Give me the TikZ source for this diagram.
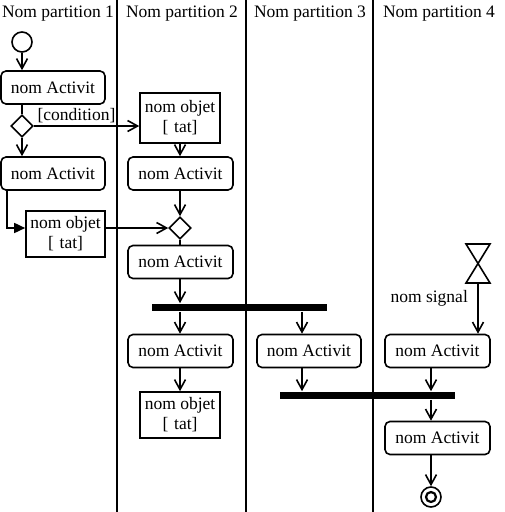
\documentclass[tikz,border=0pt]{standalone}
\usepackage{fontspec}
\setmainfont{Liberation Serif}
\usetikzlibrary{arrows.meta,shapes.geometric}
\begin{document}
\begin{tikzpicture}[x=1pt,y=-1pt,line width=1.6pt,
  every node/.style={font=\fontsize{17.5}{19}\selectfont},
  act/.style={draw,rounded corners=5pt,minimum width=104pt,minimum height=33pt,inner sep=0pt,text depth=0pt},
  obj/.style={draw,minimum width=80pt,minimum height=48pt,inner sep=0pt,align=center,font=\fontsize{17.5}{20}\selectfont},
  dec/.style={draw,diamond,minimum width=22pt,minimum height=22pt,inner sep=0pt},
  bar/.style={fill=black,draw=none,inner sep=0pt,minimum width=175pt,minimum height=7pt},
  flow/.style={-{Straight Barb[length=10pt,width=11pt,line width=1.6pt]}},
  flowf/.style={-{Triangle[length=11pt,width=10pt]}},
  lane/.style={line width=1.8pt}]
\useasboundingbox (0,0) rectangle (504,512);
% lanes
\draw[lane] (117,0) -- (117,512);
\draw[lane] (246,0) -- (246,512);
\draw[lane] (373,0) -- (373,512);
\node (h1) at (58,14) {Nom partition 1};
\node (h2) at (182,14) {Nom partition 2};
\node (h3) at (310,14) {Nom partition 3};
\node (h4) at (439,14) {Nom partition 4};
% nodes
\node[draw,circle,minimum size=20pt,inner sep=0pt] (init) at (22,42) {};
\node[act] (a1) at (53,87.5) {nom Activit};
\node[dec] (d1) at (22,126) {};
\node[act] (a2) at (53,173.5) {nom Activit};
\node[obj,minimum height=50pt] (o1) at (180,118) {nom objet\\{[}\,\,tat{]}};
\node[act,minimum width=105pt] (a3) at (180.5,173.5) {nom Activit};
\node[obj,minimum width=79pt,minimum height=46pt] (o2) at (65.5,234) {nom objet\\{[}\,\,tat{]}};
\node[dec] (d2) at (180,228) {};
\node[act,minimum width=105pt] (a4) at (180.5,262) {nom Activit};
\node[bar] (b1) at (239.5,307.5) {};
\node[act,minimum width=105pt] (a5) at (180.5,351) {nom Activit};
\node[act] (a6) at (309,351) {nom Activit};
\node[obj,minimum height=46pt] (o3) at (180,415) {nom objet\\{[}\,\,tat{]}};
\node[bar] (b2) at (367.5,395.5) {};
\node[act,minimum width=105pt] (a7) at (437.5,351) {nom Activit};
\node[act,minimum width=105pt] (a8) at (437.5,438) {nom Activit};
\draw (466,244) -- (490,244) -- (466,283) -- (490,283) -- cycle;
\coordinate (sig) at (478,283);
\node[anchor=east] (sl) at (472,298) {nom signal};
\node[draw,circle,minimum size=20pt,inner sep=0pt] (fin) at (431,497) {};
\node[draw,circle,minimum size=10pt,inner sep=0pt,line width=2.2pt] (fin2) at (431,497) {};
% connectors
\draw[flow] (init.south) -- (a1.north -| init);
\draw (a1.south -| d1) -- (d1.north);
\draw[flow] (d1.east) -- (o1.west |- d1.east) node[midway,above=-1pt,xshift=-10pt] (cond) {[condition]};
\draw[flow] (d1.south) -- (a2.north -| d1);
\coordinate (c2) at (7,0);
\draw[flowf] (a2.south -| c2) -- (c2 |- d2) -- (o2.west |- d2);
\draw[flow] (o2.east |- d2) -- (d2.west);
\draw[flow] (o1.south) -- (a3.north -| o1);
\draw[flow] (a3.south -| d2) -- (d2.north);
\draw (d2.south) -- (a4.north -| d2);
\draw[flow] (a4.south -| d2) -- (b1.north -| d2);
\draw[flow] (b1.south -| d2) -- (a5.north -| d2);
\coordinate (c6) at (302,0);
\draw[flow] (b1.south -| c6) -- (a6.north -| c6);
\draw[flow] (a5.south -| o3) -- (o3.north);
\draw[flow] (a6.south -| c6) -- (b2.north -| c6);
\draw[flow] (sig) -- (a7.north -| sig);
\draw[flow] (a7.south -| fin) -- (b2.north -| fin);
\draw[flow] (b2.south -| fin) -- (a8.north -| fin);
\draw[flow] (a8.south -| fin) -- (fin.north);
\end{tikzpicture}
\end{document}
